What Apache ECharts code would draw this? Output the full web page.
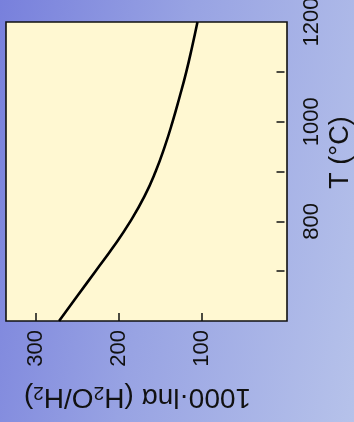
<!DOCTYPE html>
<html>
<head>
<meta charset="utf-8">
<script src="https://cdn.jsdelivr.net/npm/echarts@6/dist/echarts.min.js"></script>
<style>
  html, body { margin: 0; padding: 0; }
  body {
    width: 354px; height: 422px; overflow: hidden;
    background: linear-gradient(100deg, #7880dc 0%, #98a3e3 45%, #b6c2ea 100%);
  }
  #chart { width: 354px; height: 422px; }
</style>
</head>
<body>
<div id="chart"></div>
<script>
// Temperature (°C) and fractionation 1000·lnα (H2O/H2)
const temperatureC = [600, 650, 700, 750, 800, 850, 900, 950, 1000, 1050, 1100, 1150, 1200];
const lnAlpha1000  = [272, 250, 228, 206, 186, 169, 155.5, 144.5, 135, 126.5, 118.5, 111.5, 105];

const xTickValues = [100, 200, 300];
const yTickValues = [700, 800, 900, 1000, 1100];
const yLabelValues = [800, 1000, 1200];

const FONT = 'Liberation Sans, Arial, Helvetica, sans-serif';

const chart = echarts.init(document.getElementById('chart'), null, { renderer: 'canvas' });

chart.setOption({
  backgroundColor: 'transparent',
  animation: false,
  grid: {
    left: 6, right: 67, top: 22, bottom: 101,
    outerBoundsMode: 'none',
    containLabel: false,
    show: true,
    backgroundColor: '#fff8d2',
    borderColor: '#111',
    borderWidth: 1.6
  },
  xAxis: {
    type: 'value',
    inverse: true,
    min: -3,
    max: 336,
    position: 'bottom',
    splitLine: { show: false },
    axisLine: { show: false },
    axisTick: { show: true, inside: true, length: 8, customValues: xTickValues,
                lineStyle: { color: '#111', width: 1.5 } },
    axisLabel: { show: true, customValues: xTickValues, rotate: 90, margin: 9,
                 fontSize: 22, color: '#111', fontFamily: FONT,
                 formatter: v => String(v) },
    name: '1000·lnα (H{s|2}O/H{s|2})',
    nameLocation: 'middle',
    nameRotate: 180,
    nameGap: 62,
    nameMoveOverlap: false,
    nameTextStyle: {
      fontSize: 28, color: '#111', fontFamily: FONT,
      padding: [0, 0, 0, 18],
      rich: { s: { fontSize: 19, fontFamily: FONT, color: '#111', verticalAlign: 'bottom' } }
    }
  },
  yAxis: {
    type: 'value',
    min: 600,
    max: 1200,
    interval: 100,
    position: 'right',
    splitLine: { show: false },
    axisLine: { show: false },
    axisTick: { show: true, inside: true, length: 8, customValues: yTickValues,
                lineStyle: { color: '#111', width: 1.5 } },
    axisLabel: { show: true, customValues: yLabelValues, rotate: 90, margin: 14,
                 fontSize: 22, color: '#111', fontFamily: FONT,
                 formatter: v => String(v) },
    name: 'T (°C)',
    nameLocation: 'middle',
    nameRotate: 90,
    nameGap: 40,
    nameMoveOverlap: false,
    nameTextStyle: {
      fontSize: 27, color: '#111', fontFamily: FONT,
      padding: [0, 0, 0, 38]
    }
  },
  series: [{
    type: 'line',
    data: temperatureC.map((t, i) => [lnAlpha1000[i], t]),
    smooth: 0.5,
    showSymbol: false,
    lineStyle: { color: '#000', width: 2.6 }
  }]
});
</script>
</body>
</html>
